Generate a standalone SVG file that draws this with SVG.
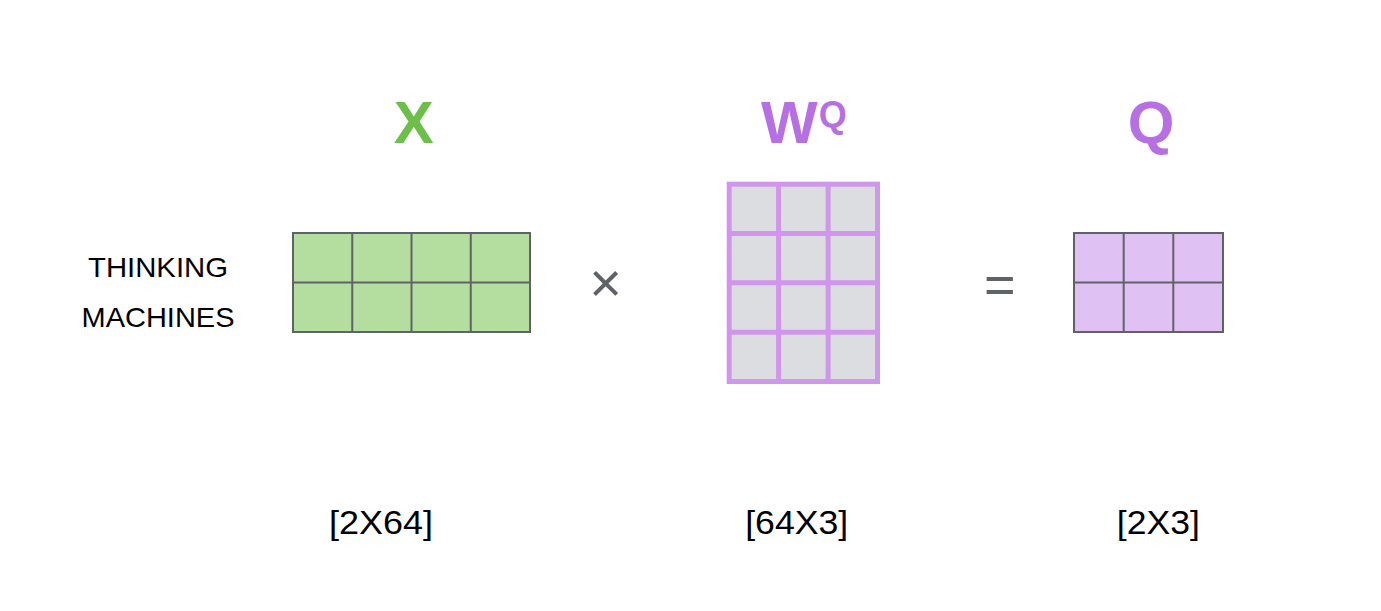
<svg xmlns="http://www.w3.org/2000/svg" width="1381" height="611" viewBox="0 0 1381 611">
<style>
.title{font-family:"Liberation Sans",Arial,sans-serif;font-weight:bold;font-size:60px;}
.lbl{font-family:"Liberation Sans",Arial,sans-serif;font-size:27.5px;fill:#000;text-anchor:middle;}
.dim{font-family:"Liberation Sans",Arial,sans-serif;font-size:34px;fill:#000;text-anchor:middle;}
.op{font-family:"Liberation Sans",Arial,sans-serif;fill:#5f6368;text-anchor:middle;}
.gx{fill:#b3dea0;stroke:#5f6368;stroke-width:2;}
.gw{fill:#dcdde0;stroke:#cf96ec;stroke-width:5;}
.gq{fill:#dfc2f3;stroke:#5f6368;stroke-width:2;}
.ln{fill:none;}
</style>
<rect width="1381" height="611" fill="#fff"/>
<g id="input-label">
<text class="lbl" x="158" y="277" textLength="140" lengthAdjust="spacingAndGlyphs">THINKING</text>
<text class="lbl" x="158" y="327" textLength="153" lengthAdjust="spacingAndGlyphs">MACHINES</text>
</g>
<g id="matrix-x">
<text class="title" x="413.8" y="143" text-anchor="middle" fill="#6cc04a">X</text>
<rect class="gx" x="293" y="233" width="237" height="99"/>
<path class="gx ln" d="M352.25 233V332M411.5 233V332M470.75 233V332M293 282.5H530"/>
<text class="dim" x="381" y="534" textLength="104" lengthAdjust="spacingAndGlyphs">[2X64]</text>
</g>
<g id="op-times">
<text class="op" x="605.5" y="302" font-size="56">×</text>
</g>
<g id="matrix-wq">
<text class="title" x="761" y="143" fill="#b76fe4">W<tspan font-size="36" dy="-16" dx="1">Q</tspan></text>
<rect class="gw" x="729.2" y="184.2" width="148.3" height="197.3"/>
<path class="gw ln" d="M778.6 184.2V381.5M828.1 184.2V381.5M729.2 233.5H877.5M729.2 282.8H877.5M729.2 332.2H877.5"/>
<text class="dim" x="796.7" y="534" textLength="103" lengthAdjust="spacingAndGlyphs">[64X3]</text>
</g>
<g id="op-equals">
<text class="op" x="999.7" y="303" font-size="54">=</text>
</g>
<g id="matrix-q">
<text class="title" x="1151" y="143" text-anchor="middle" fill="#b76fe4">Q</text>
<rect class="gq" x="1074" y="233" width="149" height="99"/>
<path class="gq ln" d="M1123.7 233V332M1173.3 233V332M1074 282.5H1223"/>
<text class="dim" x="1158.3" y="534" textLength="83" lengthAdjust="spacingAndGlyphs">[2X3]</text>
</g>
<g id="connectors"></g>
</svg>
